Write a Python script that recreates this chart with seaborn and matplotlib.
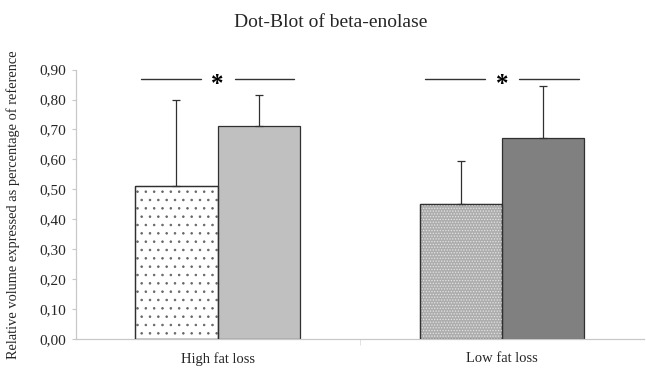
import matplotlib
matplotlib.use("Agg")
import matplotlib.pyplot as plt
import seaborn as sns
import pandas as pd
import numpy as np
from matplotlib.patches import Rectangle
from matplotlib.ticker import FixedLocator

groups = ["High fat loss", "High fat loss", "Low fat loss", "Low fat loss"]
conditions = ["A", "B", "A", "B"]
means = [0.51, 0.71, 0.45, 0.67]
errors = [0.29, 0.105, 0.145, 0.175]
yticks = [0.0, 0.1, 0.2, 0.3, 0.4, 0.5, 0.6, 0.7, 0.8, 0.9]
ytick_labels = ["0,00", "0,10", "0,20", "0,30", "0,40", "0,50", "0,60", "0,70", "0,80", "0,90"]
sig_height = 0.87

df = pd.DataFrame({"group": groups, "cond": conditions, "value": means})

sns.set_style("white")
plt.rcParams["font.family"] = ["Liberation Serif", "DejaVu Serif"]

fig = plt.figure(figsize=(6.46, 3.68), dpi=100)
ax = fig.add_axes([0.117, 0.078, 0.88, 0.733])

sns.barplot(data=df, x="group", y="value", hue="cond", width=0.58,
            palette=["white", "#c0c0c0"], edgecolor="#303030", linewidth=0.9,
            errorbar=None, legend=False, ax=ax, zorder=2)

patches = sorted([p for p in ax.patches if p.get_height() > 0], key=lambda p: p.get_x())
fills = ["white", "#c0c0c0", "#adadad", "#808080"]
for p, c in zip(patches, fills):
    p.set_facecolor(c)

def hatch_overlay(p, hatch, color):
    r = Rectangle((p.get_x(), p.get_y()), p.get_width(), p.get_height(),
                  facecolor="none", edgecolor=color, hatch=hatch, linewidth=0, zorder=2.5)
    ax.add_patch(r)
    o = Rectangle((p.get_x(), p.get_y()), p.get_width(), p.get_height(),
                  facecolor="none", edgecolor="#303030", linewidth=0.9, zorder=2.6)
    ax.add_patch(o)

plt.rcParams["hatch.linewidth"] = 0.6
hatch_overlay(patches[0], "..", "#666666")
hatch_overlay(patches[2], "......", "#e4e4e4")

for p, m, e in zip(patches, means, errors):
    xc = p.get_x() + p.get_width() / 2
    ax.errorbar(xc, m, yerr=[[0], [e]], fmt="none", ecolor="#303030",
                elinewidth=0.9, capsize=3, capthick=0.9, zorder=3)

for i in range(2):
    left = patches[2 * i]
    right = patches[2 * i + 1]
    x0 = left.get_x() + 0.02
    x1 = right.get_x() + right.get_width() - 0.02
    xm = right.get_x()
    ax.plot([x0, xm - 0.06], [sig_height, sig_height], color="#333333", lw=1)
    ax.plot([xm + 0.06, x1], [sig_height, sig_height], color="#333333", lw=1)
    ax.text(xm, sig_height - 0.02, "*", ha="center", va="center", fontsize=18,
            fontweight="bold", color="black")

ax.set_ylim(0, 0.9)
ax.set_xlim(-0.5, 1.5)
ax.set_yticks(yticks)
ax.set_yticklabels(ytick_labels)
ax.set_xlabel("")
ax.set_ylabel("Relative volume expressed as percentage of reference", fontsize=10.4)
ax.yaxis.set_label_coords(-0.097, 0.5)
ax.tick_params(axis="y", labelsize=11, length=3, color="#c8c8c8", left=True, pad=4, width=0.8)
ax.tick_params(axis="x", labelsize=10.5, length=0, pad=9)
ax.xaxis.set_minor_locator(FixedLocator([0.5]))
ax.tick_params(axis="x", which="minor", length=4, color="#dddddd", bottom=True)

for s in ["top", "right"]:
    ax.spines[s].set_visible(False)
for s in ["left", "bottom"]:
    ax.spines[s].set_color("#c8c8c8")
    ax.spines[s].set_linewidth(0.9)

fig.text(0.512, 0.94, "Dot-Blot of beta-enolase", ha="center", va="center", fontsize=14)

fig.savefig("out.png", dpi=100)
